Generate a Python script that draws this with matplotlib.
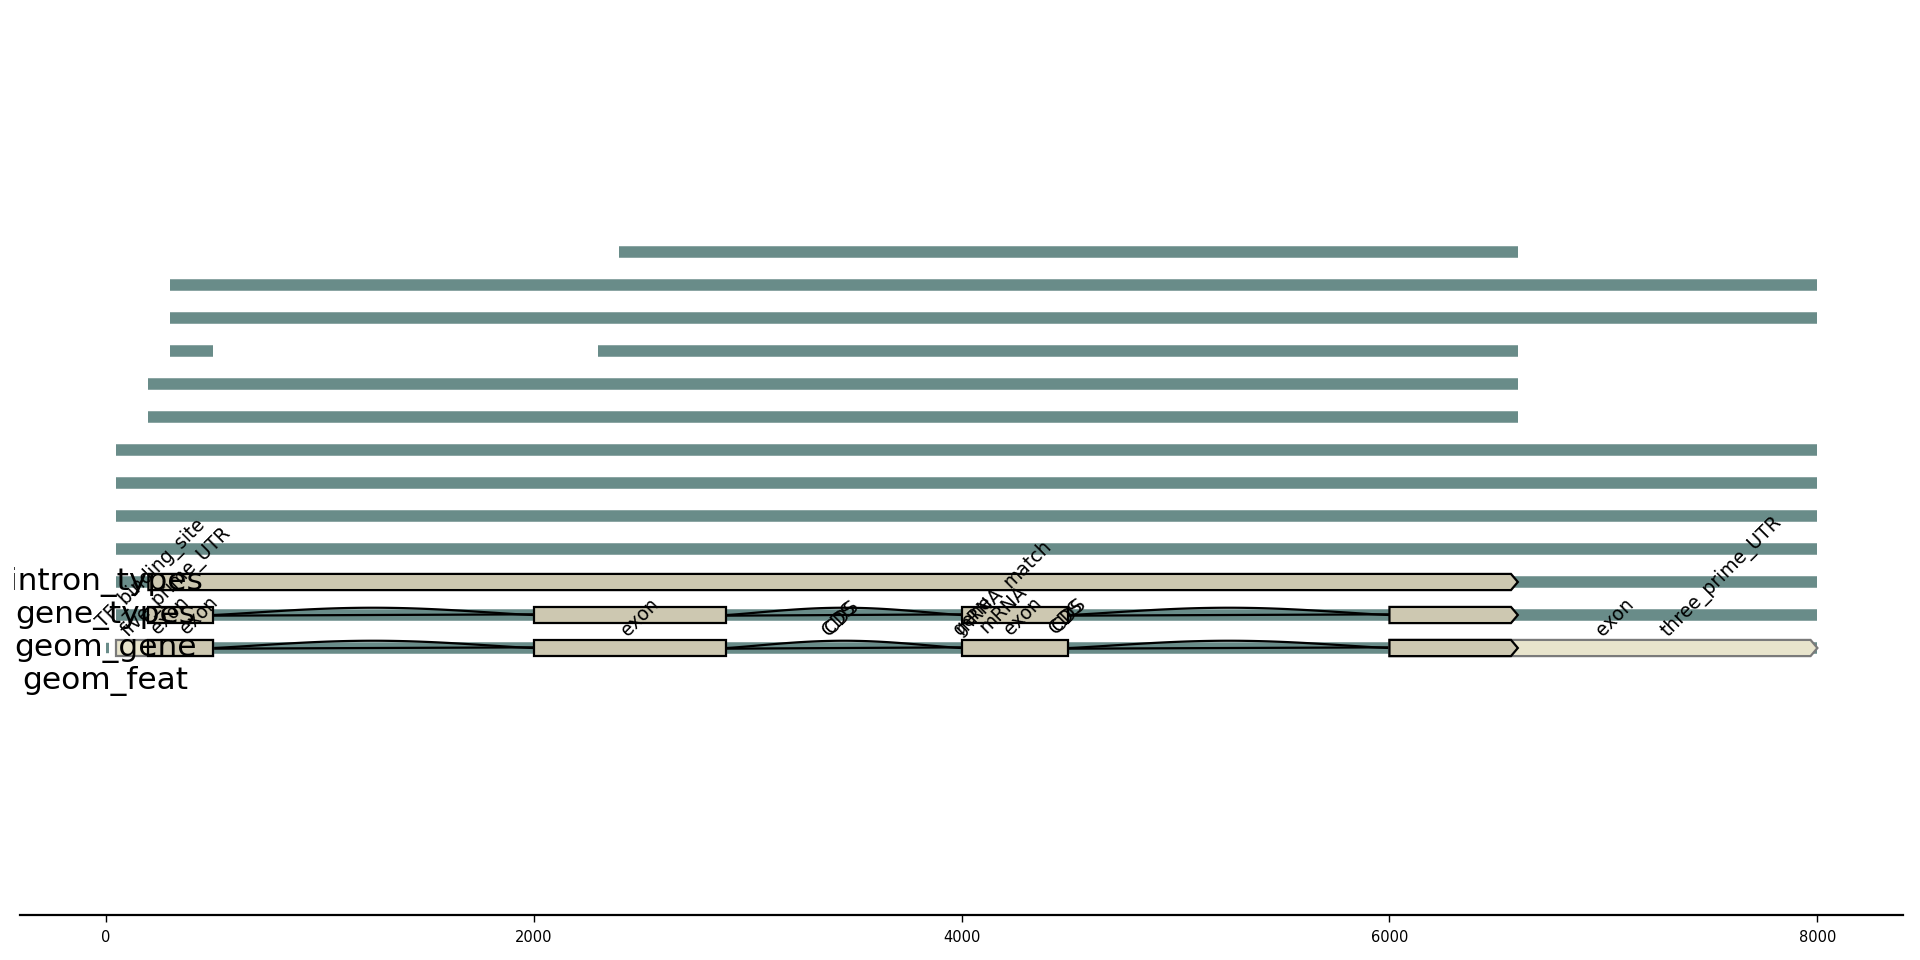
import matplotlib
matplotlib.use("Agg")
import matplotlib.pyplot as plt
import numpy as np
from matplotlib.patches import Polygon, Rectangle

# ---- data ----
seq_row   = [13, 12, 11, 10, 10, 9, 8, 7, 6, 5, 4, 3, 2, 1]
seq_start = [2400, 300, 300, 300, 2300, 200, 200, 50, 50, 50, 50, 50, 50, 50]
seq_end   = [6600, 8000, 8000, 500, 6600, 6600, 6600, 8000, 8000, 8000, 8000, 8000, 8000, 8000]

gene_row   = [3, 2, 2, 2, 2, 1, 1, 1, 1]
gene_start = [200, 200, 2000, 4000, 6000, 200, 2000, 4000, 6000]
gene_end   = [6600, 500, 2900, 4500, 6600, 500, 2900, 4500, 6600]
gene_arrow = [True, False, False, False, True, False, False, False, True]

utr_row   = [1, 1]
utr_start = [50, 6000]
utr_end   = [500, 8000]
utr_arrow = [False, True]

intron_row   = [2, 2, 2, 1, 1, 1]
intron_start = [500, 2900, 4500, 500, 2900, 4500]
intron_end   = [2000, 4000, 6000, 2000, 4000, 6000]

tfbs_row, tfbs_start, tfbs_end = 1, 0, 18

label_text = ["TF_binding_site", "five_prime_UTR", "exon", "exon", "exon", "CDS", "CDS",
              "gene", "mRNA", "mRNA", "exon", "CDS", "CDS", "match", "exon", "three_prime_UTR"]
label_x = [-10, 106, 246, 382, 2440, 3380, 3395, 3995, 4005, 4115, 4230, 4440, 4455, 4228, 7000, 7300]
label_y = [1.60, 1.33, 1.39, 1.39, 1.33, 1.33, 1.40, 1.36, 1.36, 1.42, 1.36, 1.40, 1.45, 2.79, 1.33, 1.33]

row_names = ["geom_feat", "geom_gene", "gene_types", "intron_types"]
row_pos = [0, 1, 2, 3]

xticks = [0, 2000, 4000, 6000, 8000]

SEQ = "#698c89"
GENE = "#cdc8b1"
UTR = "#e8e4cc"

fig = plt.figure(figsize=(19.2, 9.6), dpi=100)
ax = fig.add_axes([20/1920, 45/960, 1883/1920, 898/960])
ax.set_xlim(-400, 8400)
ax.set_ylim(-7.09, 20.12)
for s in ["left", "right", "top"]:
    ax.spines[s].set_visible(False)
ax.spines["bottom"].set_linewidth(1.6)
ax.set_yticks([])
ax.set_xticks(xticks)
ax.set_xticklabels([str(t) for t in xticks], fontsize=10.5)
ax.tick_params(axis="x", length=5, width=1, pad=6)

# sequences
for r, a, b in zip(seq_row, seq_start, seq_end):
    ax.plot([a, b], [r, r], color=SEQ, lw=8.3, solid_capstyle="butt", zorder=1)
ax.plot([tfbs_start, tfbs_end], [tfbs_row, tfbs_row], color=SEQ, lw=7.5,
        solid_capstyle="butt", zorder=1)

H = 0.245
AW = 32

def gbox(x0, x1, y, arrow, fc, ec, z):
    if arrow:
        pts = [(x0, y-H), (x1-AW, y-H), (x1, y), (x1-AW, y+H), (x0, y+H)]
    else:
        pts = [(x0, y-H), (x1, y-H), (x1, y+H), (x0, y+H)]
    ax.add_patch(Polygon(pts, closed=True, fc=fc, ec=ec, lw=1.6, joinstyle="miter", zorder=z))

# introns: a straight connector plus an arched one
for r, a, b in zip(intron_row, intron_start, intron_end):
    xs = np.linspace(a, b, 80)
    ax.plot([a, b], [r - 0.02, r + 0.02], color="black", lw=1.6, zorder=2)
    ax.plot(xs, r + 0.22*np.sin(np.pi*(xs - a)/(b - a))**1.2, color="black", lw=1.6, zorder=2)

for r, a, b, ar in zip(utr_row, utr_start, utr_end, utr_arrow):
    gbox(a, b, r, ar, UTR, "#7a7a7a", 3)
for r, a, b, ar in zip(gene_row, gene_start, gene_end, gene_arrow):
    gbox(a, b, r, ar, GENE, "black", 4)

for t, x, y in zip(label_text, label_x, label_y):
    ax.text(x, y, t, rotation=45, rotation_mode="anchor", ha="left", va="baseline",
            fontsize=13.5, zorder=6)

# row names, cut at the left like the panel edge
clip = Rectangle((14/1920, 0), 1, 1, transform=fig.transFigure, visible=False)
fig.add_artist(clip)
for name, y in zip(row_names, row_pos):
    t = ax.text(0, y, name, ha="center", va="center", fontsize=22.5, zorder=7)
    t.set_clip_on(True)
    t.set_clip_path(clip)

plt.savefig("out.png", dpi=100)
